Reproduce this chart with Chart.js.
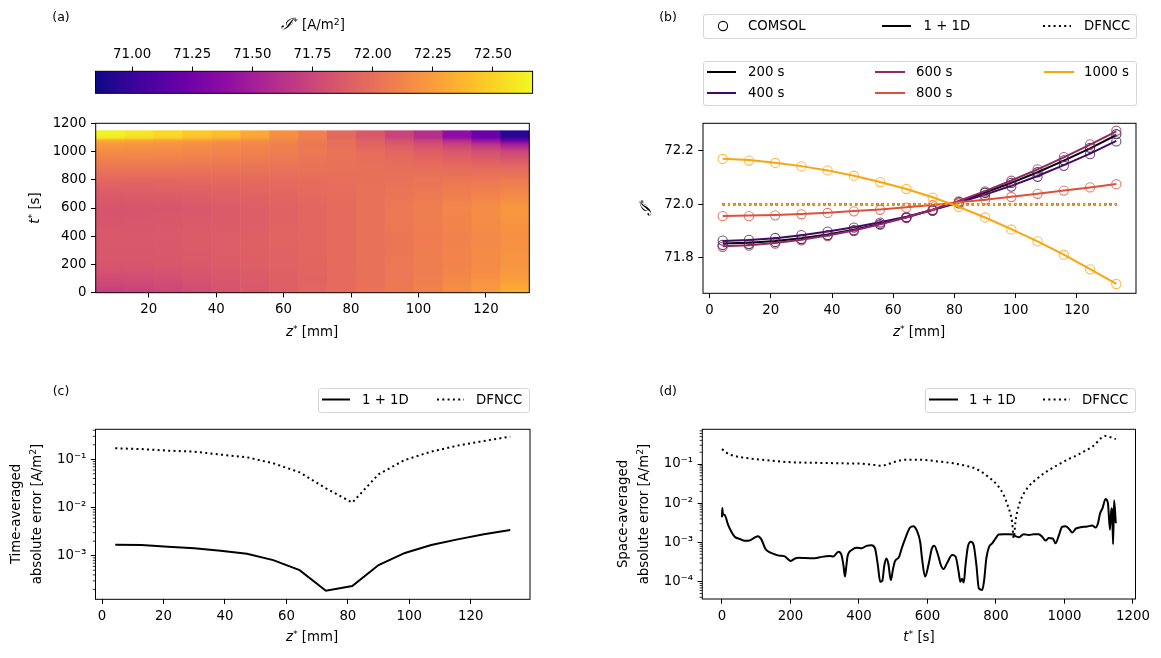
<!DOCTYPE html>
<html>
<head>
<meta charset="utf-8">
<title>Current density comparison</title>
<script src="https://cdn.jsdelivr.net/npm/chart.js@4.4.0/dist/chart.umd.min.js"></script>
<style>
  body { margin: 0; background: #fff; }
  #fig { position: relative; width: 1161px; height: 658px; overflow: hidden;
         font-family: 'DejaVu Sans', sans-serif; font-size: 13.3px; color: #000; }
  #fig canvas { position: absolute; left: 0; top: 0; }
  .t { position: absolute; white-space: nowrap; line-height: 1; }
  .c { transform: translate(-50%, -50%); }
  .l { transform: translateY(-50%); }
  .rot { transform: translate(-50%, -50%) rotate(-90deg); text-align: center; }
  .legend { position: absolute; box-sizing: border-box; border: 1px solid #d6d6d6;
            border-radius: 3px; background: rgba(255, 255, 255, 0.8); }
  .cal { font-family: 'DejaVu Serif', serif; font-style: italic; font-size: 118%; }
  sup { font-size: 70%; vertical-align: 0.5em; line-height: 0; }
</style>
</head>
<body>
<div id="fig">
  <canvas id="cbar" width="1161" height="658"></canvas>
  <canvas id="heat" width="1161" height="658"></canvas>
  <canvas id="profiles" width="1161" height="658"></canvas>
  <canvas id="timeErr" width="1161" height="658"></canvas>
  <canvas id="spaceErr" width="1161" height="658"></canvas>
</div>
<script>
// ---- data ----

// axial positions of the 16 nodes [mm]
const zNodes = [4.29, 12.86, 21.43, 30.0, 38.57, 47.14, 55.71, 64.29, 72.86, 81.43, 90.0, 98.57, 107.14, 115.71, 124.29, 132.86];

// (a) heat map: one row per time, one value per cell column (15 columns between the nodes)
const heatTimes = [0, 100, 200, 300, 400, 500, 600, 700, 800, 900, 1000, 1050, 1075, 1100, 1125, 1150];
const heatCells = [
  [71.70, 71.72, 71.75, 71.79, 71.83, 71.87, 71.91, 71.95, 71.98, 72.02, 72.06, 72.11, 72.18, 72.25, 72.35],
  [71.79, 71.80, 71.81, 71.83, 71.855, 71.88, 71.91, 71.94, 71.97, 72.01, 72.05, 72.09, 72.14, 72.19, 72.25],
  [71.85, 71.853, 71.862, 71.872, 71.887, 71.905, 71.928, 71.952, 71.98, 72.01, 72.045, 72.08, 72.12, 72.165, 72.21],
  [71.86, 71.862, 71.87, 71.88, 71.895, 71.912, 71.933, 71.955, 71.98, 72.01, 72.043, 72.078, 72.115, 72.157, 72.20],
  [71.865, 71.868, 71.875, 71.886, 71.90, 71.915, 71.935, 71.955, 71.98, 72.01, 72.04, 72.075, 72.11, 72.15, 72.19],
  [71.85, 71.855, 71.863, 71.875, 71.89, 71.906, 71.93, 71.953, 71.98, 72.01, 72.045, 72.082, 72.12, 72.163, 72.206],
  [71.84, 71.845, 71.853, 71.866, 71.882, 71.90, 71.925, 71.95, 71.98, 72.012, 72.05, 72.088, 72.13, 72.175, 72.222],
  [71.89, 71.893, 71.90, 71.91, 71.922, 71.936, 71.953, 71.97, 71.99, 72.01, 72.033, 72.058, 72.085, 72.113, 72.143],
  [71.955, 71.956, 71.958, 71.962, 71.967, 71.973, 71.979, 71.987, 71.996, 72.006, 72.016, 72.027, 72.038, 72.05, 72.062],
  [72.06, 72.058, 72.055, 72.05, 72.045, 72.04, 72.033, 72.025, 72.015, 72.005, 71.995, 71.985, 71.975, 71.963, 71.95],
  [72.17, 72.165, 72.155, 72.143, 72.127, 72.107, 72.083, 72.057, 72.025, 71.99, 71.95, 71.905, 71.86, 71.81, 71.755],
  [72.23, 72.22, 72.20, 72.18, 72.15, 72.12, 72.09, 72.05, 72.00, 71.94, 71.88, 71.81, 71.73, 71.63, 71.50],
  [72.30, 72.29, 72.27, 72.24, 72.21, 72.17, 72.13, 72.07, 72.00, 71.93, 71.84, 71.74, 71.60, 71.45, 71.25],
  [72.60, 72.55, 72.50, 72.43, 72.38, 72.29, 72.17, 72.09, 71.96, 71.87, 71.74, 71.61, 71.40, 71.22, 70.97],
  [72.65, 72.59, 72.54, 72.47, 72.42, 72.32, 72.19, 72.10, 71.97, 71.87, 71.74, 71.61, 71.39, 71.21, 70.94],
  [72.63, 72.58, 72.52, 72.46, 72.41, 72.31, 72.19, 72.10, 71.97, 71.87, 71.74, 71.61, 71.39, 71.20, 70.94]
];

// (b) profiles at five times
const profileLabels = ['200 s', '400 s', '600 s', '800 s', '1000 s'];
const comsol200 = [71.847, 71.85, 71.858, 71.869, 71.884, 71.902, 71.925, 71.95, 71.978, 72.008, 72.043, 72.08, 72.12, 72.165, 72.212, 72.263];
const comsol400 = [71.863, 71.866, 71.873, 71.884, 71.897, 71.912, 71.931, 71.951, 71.975, 72.003, 72.033, 72.066, 72.103, 72.144, 72.188, 72.236];
const comsol600 = [71.84, 71.844, 71.852, 71.864, 71.88, 71.899, 71.922, 71.948, 71.977, 72.01, 72.048, 72.088, 72.131, 72.177, 72.225, 72.276];
const comsol800 = [71.955, 71.955, 71.958, 71.962, 71.967, 71.973, 71.979, 71.987, 71.996, 72.007, 72.017, 72.027, 72.039, 72.051, 72.063, 72.075];
const comsol1000 = [72.17, 72.164, 72.155, 72.142, 72.127, 72.107, 72.083, 72.057, 72.025, 71.99, 71.95, 71.905, 71.86, 71.81, 71.755, 71.70];
const model200 = [71.852, 71.855, 71.862, 71.872, 71.886, 71.904, 71.926, 71.951, 71.979, 72.01, 72.044, 72.08, 72.12, 72.164, 72.21, 72.26];
const model400 = [71.862, 71.865, 71.872, 71.883, 71.897, 71.913, 71.932, 71.953, 71.978, 72.006, 72.036, 72.069, 72.106, 72.147, 72.19, 72.238];
const model600 = [71.842, 71.846, 71.854, 71.866, 71.882, 71.901, 71.924, 71.95, 71.979, 72.012, 72.049, 72.089, 72.131, 72.176, 72.224, 72.274];
const model800 = [71.956, 71.957, 71.959, 71.963, 71.968, 71.974, 71.98, 71.988, 71.997, 72.007, 72.017, 72.028, 72.039, 72.051, 72.063, 72.076];
const model1000 = [72.171, 72.166, 72.156, 72.143, 72.127, 72.107, 72.083, 72.057, 72.026, 71.99, 71.95, 71.906, 71.86, 71.81, 71.756, 71.70];
const dfnccProfile = [72.0, 72.0, 72.0, 72.0, 72.0, 72.0, 72.0, 72.0, 72.0, 72.0, 72.0, 72.0, 72.0, 72.0, 72.0, 72.0];

// (c) time-averaged absolute error per node [A/m2]
const timeErr1D = [1.69e-3, 1.66e-3, 1.54e-3, 1.42e-3, 1.27e-3, 1.10e-3, 8.1e-4, 5.0e-4, 1.87e-4, 2.34e-4, 6.4e-4, 1.14e-3, 1.66e-3, 2.18e-3, 2.77e-3, 3.41e-3];
const timeErrDfncc = [0.169, 0.163, 0.151, 0.144, 0.125, 0.110, 0.0826, 0.0537, 0.025, 0.0126, 0.0489, 0.097, 0.144, 0.192, 0.24, 0.295];

// (d) space-averaged absolute error over time [A/m2]
const t1D = [0, 1, 2, 3, 8, 18, 27, 37, 52, 66, 81, 96, 105, 115, 127, 140, 154, 169, 182, 188, 201, 213, 224, 242, 271, 291, 315, 325, 340, 349, 355, 359, 363, 367, 379, 393, 408, 422, 437, 447, 455, 462, 468, 474, 480, 486, 493, 499, 505, 517, 525, 537, 549, 559, 569, 579, 584, 593, 603, 613, 620, 630, 639, 647, 657, 672, 682, 691, 696, 701, 706, 711, 718, 727, 735, 743, 750, 760, 765, 772, 780, 789, 799, 808, 823, 837, 850, 857, 867, 881, 896, 911, 925, 935, 945, 954, 966, 974, 984, 993, 1003, 1013, 1023, 1033, 1047, 1066, 1081, 1091, 1098, 1104, 1111, 1120, 1127, 1133, 1137, 1140, 1142, 1145, 1150];
const spaceErr1D = [4.4e-3, 7.6e-3, 6.0e-3, 5.3e-3, 5.0e-3, 2.8e-3, 1.9e-3, 1.4e-3, 1.23e-3, 1.1e-3, 1.12e-3, 1.35e-3, 1.45e-3, 1.2e-3, 6.8e-4, 5.6e-4, 5.0e-4, 4.6e-4, 4.5e-4, 4.1e-4, 3.4e-4, 3.9e-4, 4.1e-4, 4.0e-4, 3.95e-4, 4.3e-4, 4.5e-4, 4.4e-4, 5.8e-4, 4.8e-4, 2.5e-4, 1.35e-4, 2.5e-4, 4.6e-4, 6.4e-4, 7.3e-4, 7.1e-4, 8.2e-4, 8.5e-4, 7.0e-4, 2.7e-4, 1.0e-4, 1.05e-4, 2.6e-4, 3.9e-4, 2.8e-4, 1.1e-4, 2.0e-4, 3.3e-4, 4.3e-4, 7.2e-4, 1.4e-3, 2.4e-3, 2.6e-3, 2.0e-3, 1.0e-3, 4.0e-4, 1.35e-4, 2.7e-4, 7.1e-4, 8.3e-4, 5.1e-4, 2.67e-4, 2.1e-4, 2.95e-4, 4.8e-4, 4.4e-4, 1.8e-4, 1.0e-4, 1.2e-4, 9.5e-5, 2.6e-4, 7.8e-4, 1.04e-3, 8.5e-4, 2.6e-4, 6.8e-5, 6.2e-5, 1.0e-4, 4.0e-4, 7.8e-4, 9.5e-4, 1.27e-3, 1.6e-3, 1.63e-3, 1.63e-3, 1.6e-3, 1.45e-3, 1.37e-3, 1.63e-3, 1.55e-3, 1.63e-3, 1.63e-3, 1.4e-3, 1.12e-3, 1.3e-3, 1.27e-3, 9.5e-4, 1.55e-3, 2.5e-3, 2.6e-3, 2.25e-3, 1.8e-3, 2.25e-3, 2.45e-3, 2.55e-3, 2.7e-3, 2.4e-3, 3.1e-3, 5.5e-3, 7.4e-3, 1.29e-2, 1.0e-2, 2.1e-3, 7.5e-3, 4.5e-3, 9.0e-4, 1.2e-2, 3.1e-3];
const tDfncc = [0, 13, 27, 57, 86, 115, 164, 213, 262, 310, 359, 408, 447, 466, 486, 505, 535, 574, 588, 637, 676, 715, 745, 774, 804, 823, 834, 842, 847, 852, 857, 862, 872, 891, 921, 950, 980, 1009, 1038, 1066, 1086, 1106, 1120, 1135, 1150];
const spaceErrDfncc = [0.24, 0.195, 0.17, 0.148, 0.137, 0.129, 0.117, 0.11, 0.108, 0.106, 0.104, 0.102, 0.094, 0.09, 0.1, 0.114, 0.129, 0.129, 0.127, 0.115, 0.104, 0.089, 0.073, 0.05, 0.029, 0.016, 0.009, 0.0055, 0.0034, 0.0013, 0.0034, 0.006, 0.012, 0.024, 0.043, 0.066, 0.094, 0.13, 0.17, 0.23, 0.295, 0.45, 0.52, 0.48, 0.43];

// tick values
const heatZTicks = [20, 40, 60, 80, 100, 120];
const heatTTicks = [0, 200, 400, 600, 800, 1000, 1200];
const cbarTicks = [71.0, 71.25, 71.5, 71.75, 72.0, 72.25, 72.5];
const zTicks = [0, 20, 40, 60, 80, 100, 120];
const profileTicks = [71.8, 72.0, 72.2];
const decadeTicksC = [1e-3, 1e-2, 1e-1];
const decadeTicksD = [1e-4, 1e-3, 1e-2, 1e-1];
const timeTicks = [0, 200, 400, 600, 800, 1000, 1200];

// ---- styling ----
const W = 1161, H = 658;
const cbarMin = 70.848, cbarMax = 72.665;
const profileColors = ['#000004', '#420a68', '#932667', '#dd513a', '#fca50a'];
const plasmaStops = [[13, 8, 135], [65, 4, 157], [106, 0, 168], [143, 13, 164], [177, 42, 144], [204, 71, 120],
                     [225, 100, 98], [242, 132, 75], [252, 166, 54], [252, 206, 37], [240, 249, 33]];
const tickFont = { family: "'DejaVu Sans', sans-serif", size: 13.3 };
const dotted = [2, 3.3];

function plasma(f) {
  f = Math.min(1, Math.max(0, f)) * (plasmaStops.length - 1);
  const i = Math.min(Math.floor(f), plasmaStops.length - 2), u = f - i;
  const a = plasmaStops[i], b = plasmaStops[i + 1];
  return 'rgb(' + a.map((c, k) => Math.round(c + (b[k] - c) * u)).join(',') + ')';
}

const supMap = { '-': '\u207b', '0': '\u2070', '1': '\u00b9', '2': '\u00b2', '3': '\u00b3', '4': '\u2074', '5': '\u2075' };
function decadeLabel(v) {
  return '10' + String(Math.round(Math.log10(v))).split('').map(c => supMap[c]).join('');
}

function axis(pos, type, min, max, values, format, size) {
  return {
    type: type, position: pos, min: min, max: max, bounds: 'data',
    afterBuildTicks: s => { s.ticks = values.map(v => ({ value: v })); },
    afterFit: s => {
      if (pos === 'left') { s.width = size; s.paddingTop = 0; s.paddingBottom = 0; }
      else { s.height = size; s.paddingLeft = 0; s.paddingRight = 0; }
    },
    ticks: { callback: v => format(v), font: tickFont, color: '#000', padding: 4.5,
             autoSkip: false, maxRotation: 0, minRotation: 0 },
    grid: { drawOnChartArea: false, drawTicks: true, tickLength: 4.7, tickColor: '#000', tickWidth: 1 },
    border: { display: false }
  };
}

// box round the plot area
const frame = {
  id: 'frame',
  afterDraw(chart) {
    const a = chart.chartArea, ctx = chart.ctx;
    ctx.save();
    ctx.strokeStyle = '#000';
    ctx.lineWidth = 1;
    ctx.strokeRect(a.left, a.top, a.right - a.left, a.bottom - a.top);
    ctx.restore();
  }
};

// small ticks between the decades of a log axis
const minorTicks = {
  id: 'minorTicks',
  afterDraw(chart) {
    const y = chart.scales.y, ctx = chart.ctx;
    ctx.save();
    ctx.strokeStyle = '#000';
    ctx.lineWidth = 0.8;
    for (let e = Math.floor(Math.log10(y.min)); e <= Math.ceil(Math.log10(y.max)); e++) {
      for (let k = 2; k <= 9; k++) {
        const v = k * Math.pow(10, e);
        if (v < y.min || v > y.max) continue;
        const py = y.getPixelForValue(v);
        ctx.beginPath();
        ctx.moveTo(y.right - 2.7, py);
        ctx.lineTo(y.right, py);
        ctx.stroke();
      }
    }
    ctx.restore();
  }
};

// colour bar filled with the colormap along the x scale
const cbarFill = {
  id: 'cbarFill',
  beforeDatasetsDraw(chart) {
    const { ctx, chartArea: a, scales: { x } } = chart;
    const x0 = x.getPixelForValue(cbarMin), x1 = x.getPixelForValue(cbarMax);
    const g = ctx.createLinearGradient(x0, 0, x1, 0);
    plasmaStops.forEach((c, i) => g.addColorStop(i / (plasmaStops.length - 1), 'rgb(' + c.join(',') + ')'));
    ctx.fillStyle = g;
    ctx.fillRect(x0, a.top, x1 - x0, a.bottom - a.top);
  }
};

// heat map cells, one column per node interval, shaded along t
const heatFill = {
  id: 'heatFill',
  beforeDatasetsDraw(chart) {
    const { ctx, scales: { x, y } } = chart;
    const yBot = y.getPixelForValue(heatTimes[0]);
    const yTop = y.getPixelForValue(heatTimes[heatTimes.length - 1]);
    for (let j = 0; j < zNodes.length - 1; j++) {
      const x0 = x.getPixelForValue(zNodes[j]);
      const x1 = x.getPixelForValue(zNodes[j + 1]);
      const g = ctx.createLinearGradient(0, yBot, 0, yTop);
      heatTimes.forEach((t, i) => {
        const f = (heatCells[i][j] - cbarMin) / (cbarMax - cbarMin);
        g.addColorStop((y.getPixelForValue(t) - yBot) / (yTop - yBot), plasma(f));
      });
      ctx.fillStyle = g;
      ctx.fillRect(x0, yTop, x1 - x0 + (j < zNodes.length - 2 ? 0.6 : 0), yBot - yTop);
    }
  }
};

function pts(xs, ys) { return xs.map((v, i) => ({ x: v, y: ys[i] })); }

function baseOptions(pad, scales) {
  return {
    responsive: false, animation: false, devicePixelRatio: 1,
    layout: { padding: pad },
    plugins: { legend: { display: false }, tooltip: { enabled: false } },
    scales: scales
  };
}

// ---- (a) colour bar ----
new Chart(document.getElementById('cbar'), {
  type: 'scatter',
  data: { datasets: [] },
  options: baseOptions({ left: 95.5, right: W - 532.6, top: 0, bottom: H - 93.3 }, {
    x: axis('top', 'linear', cbarMin, cbarMax, cbarTicks, v => v.toFixed(2), 71.3),
    y: { display: false, min: 0, max: 1 }
  }),
  plugins: [cbarFill, frame]
});

// ---- (a) heat map ----
new Chart(document.getElementById('heat'), {
  type: 'scatter',
  data: { datasets: [] },
  options: baseOptions({ left: 0, right: W - 529.3, top: 123.3, bottom: 0 }, {
    x: axis('bottom', 'linear', zNodes[0], zNodes[zNodes.length - 1], heatZTicks, v => String(v), H - 292.7),
    y: axis('left', 'linear', 0, 1200, heatTTicks, v => String(v), 95.7)
  }),
  plugins: [heatFill, frame]
});

// ---- (b) profiles ----
const comsolSets = [comsol200, comsol400, comsol600, comsol800, comsol1000];
const modelSets = [model200, model400, model600, model800, model1000];
const profileData = [];
let drawOrder = 0;
profileLabels.forEach((lab, k) => {
  const col = profileColors[k];
  profileData.push({ label: 'COMSOL ' + lab, data: pts(zNodes, comsolSets[k]), showLine: false,
    pointRadius: 4.6, pointBorderWidth: 1.1, pointBackgroundColor: 'rgba(0,0,0,0)',
    pointBorderColor: col + 'c0', order: drawOrder-- });
  profileData.push({ label: '1+1D ' + lab, data: pts(zNodes, modelSets[k]), showLine: true,
    pointRadius: 0, borderWidth: 2, borderColor: col, order: drawOrder-- });
  profileData.push({ label: 'DFNCC ' + lab, data: pts(zNodes, dfnccProfile), showLine: true,
    pointRadius: 0, borderWidth: 2, borderColor: col, borderDash: dotted, order: drawOrder-- });
});
new Chart(document.getElementById('profiles'), {
  type: 'scatter',
  data: { datasets: profileData },
  options: baseOptions({ left: 0, right: W - 1136, top: 123.3, bottom: 0 }, {
    x: axis('bottom', 'linear', -2.14, 139.29, zTicks, v => String(v), H - 293.3),
    y: axis('left', 'linear', 71.665, 72.304, profileTicks, v => v.toFixed(1), 703)
  }),
  plugins: [frame]
});

// ---- (c) time-averaged error ----
new Chart(document.getElementById('timeErr'), {
  type: 'scatter',
  data: { datasets: [
    { label: '1+1D', data: pts(zNodes, timeErr1D), showLine: true, pointRadius: 0,
      borderWidth: 2, borderColor: '#000' },
    { label: 'DFNCC', data: pts(zNodes, timeErrDfncc), showLine: true, pointRadius: 0,
      borderWidth: 2, borderColor: '#000', borderDash: dotted }
  ] },
  options: baseOptions({ left: 0, right: W - 530, top: 429.3, bottom: 0 }, {
    x: axis('bottom', 'linear', -2.14, 139.29, zTicks, v => String(v), H - 599.3),
    y: axis('left', 'logarithmic', Math.pow(10, -3.905), Math.pow(10, -0.378), decadeTicksC, decadeLabel, 95.5)
  }),
  plugins: [minorTicks, frame]
});

// ---- (d) space-averaged error ----
new Chart(document.getElementById('spaceErr'), {
  type: 'scatter',
  data: { datasets: [
    { label: '1+1D', data: pts(t1D, spaceErr1D), showLine: true, pointRadius: 0,
      borderWidth: 2, borderColor: '#000', cubicInterpolationMode: 'monotone' },
    { label: 'DFNCC', data: pts(tDfncc, spaceErrDfncc), showLine: true, pointRadius: 0,
      borderWidth: 2, borderColor: '#000', borderDash: dotted, cubicInterpolationMode: 'monotone' }
  ] },
  options: baseOptions({ left: 0, right: W - 1135.5, top: 429.3, bottom: 0 }, {
    x: axis('bottom', 'linear', -57.5, 1207.5, timeTicks, v => String(v), H - 599),
    y: axis('left', 'logarithmic', Math.pow(10, -4.44), Math.pow(10, -0.115), decadeTicksD, decadeLabel, 702.3)
  }),
  plugins: [minorTicks, frame]
});

// ---- legends and labels ----
const fig = document.getElementById('fig');

function addDiv(cls, html, x, y, style) {
  const d = document.createElement('div');
  d.className = cls;
  d.innerHTML = html;
  d.style.left = x + 'px';
  d.style.top = y + 'px';
  if (style) Object.assign(d.style, style);
  fig.appendChild(d);
  return d;
}

const legendBoxes = [[703, 14, 434, 24.5], [703, 60.5, 434, 45.5], [318, 387.5, 212, 25], [925, 387.5, 211, 25]];
legendBoxes.forEach(b => addDiv('legend', '', b[0], b[1], { width: b[2] + 'px', height: b[3] + 'px' }));

// [kind, x0, x1, y, colour, text, textX]
const legendItems = [
  ['circle', 723, 723, 26, '#000', 'COMSOL', 748],
  ['solid', 882, 911, 26, '#000', '1 + 1D', 923.5],
  ['dot', 1043, 1071, 26, '#000', 'DFNCC', 1084],
  ['solid', 707, 736, 72, profileColors[0], profileLabels[0], 748],
  ['solid', 707, 736, 93, profileColors[1], profileLabels[1], 748],
  ['solid', 875, 905, 72, profileColors[2], profileLabels[2], 916],
  ['solid', 875, 905, 93, profileColors[3], profileLabels[3], 916],
  ['solid', 1044, 1074, 72, profileColors[4], profileLabels[4], 1084],
  ['solid', 322, 350, 399.5, '#000', '1 + 1D', 362],
  ['dot', 437, 464, 399.5, '#000', 'DFNCC', 476],
  ['solid', 929, 958, 399.5, '#000', '1 + 1D', 969],
  ['dot', 1043, 1070, 399.5, '#000', 'DFNCC', 1082]
];
let svg = '<svg width="' + W + '" height="' + H + '" style="position:absolute;left:0;top:0">';
legendItems.forEach(it => {
  const [kind, x0, x1, y, col] = it;
  if (kind === 'circle') {
    svg += '<circle cx="' + x0 + '" cy="' + y + '" r="4.6" fill="none" stroke="' + col + '" stroke-width="1.1"/>';
  } else {
    svg += '<line x1="' + x0 + '" y1="' + y + '" x2="' + x1 + '" y2="' + y + '" stroke="' + col +
      '" stroke-width="2"' + (kind === 'dot' ? ' stroke-dasharray="2 3.3"' : '') + '/>';
  }
});
svg += '</svg>';
fig.insertAdjacentHTML('beforeend', svg);
legendItems.forEach(it => addDiv('t l', it[5], it[6], it[3]));

// panel letters
addDiv('t c', '(a)', 61, 17, { fontSize: '12.5px' });
addDiv('t c', '(b)', 668, 17, { fontSize: '12.5px' });
addDiv('t c', '(c)', 61, 391, { fontSize: '12.5px' });
addDiv('t c', '(d)', 668, 391, { fontSize: '12.5px' });

// axis titles
const zLabel = '<i>z</i><sup>*</sup> [mm]';
const tLabel = '<i>t</i><sup>*</sup> [s]';
const iLabel = '<span class="cal">\u2110</span><sup>*</sup>';
addDiv('t c', iLabel + ' [A/m<sup>2</sup>]', 313, 24);
addDiv('t c', zLabel, 312, 332);
addDiv('t rot', tLabel, 35, 208);
addDiv('t c', zLabel, 919, 332);
addDiv('t rot', iLabel, 646, 208);
addDiv('t rot', 'Time-averaged<br>absolute error [A/m<sup>2</sup>]', 26, 514, { lineHeight: '20.5px' });
addDiv('t c', zLabel, 312, 637);
addDiv('t rot', 'Space-averaged<br>absolute error [A/m<sup>2</sup>]', 633, 514, { lineHeight: '20.5px' });
addDiv('t c', tLabel, 919, 637);
</script>
</body>
</html>
